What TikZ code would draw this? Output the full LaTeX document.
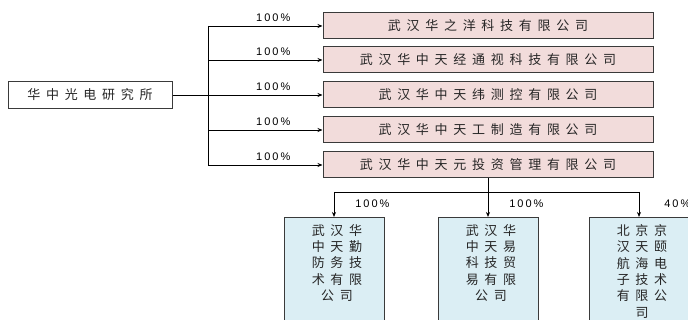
\documentclass[tikz,border=0pt]{standalone}
\usepackage{fontspec}
\usepackage{tikz}
\newfontfamily\cjk[LetterSpace=44]{Noto Sans CJK SC}
\newfontfamily\pctfont[LetterSpace=18]{Liberation Sans}
\usetikzlibrary{arrows.meta,positioning,calc}
\definecolor{pinkfill}{HTML}{F2DCDB}
\definecolor{bluefill}{HTML}{DBEEF4}
\definecolor{boxline}{HTML}{3A3A3A}
\definecolor{txt}{HTML}{262626}

\begin{document}
\begin{tikzpicture}[x=1pt, y=-1pt,
    rootnode/.style={rectangle, draw=boxline, line width=1pt, minimum width=164pt, minimum height=27pt, inner sep=0pt, text=txt, font=\cjk\fontsize{13}{14}\selectfont},
    subnode/.style={rectangle, draw=boxline, line width=1pt, fill=pinkfill, minimum width=330pt, minimum height=26pt, inner sep=0pt, text=txt, font=\cjk\fontsize{13}{14}\selectfont},
    leafnode/.style={rectangle, draw=boxline, line width=1pt, fill=bluefill, minimum width=100pt, minimum height=120pt, inner sep=0pt},
    leaftext/.style={anchor=north, align=center, inner sep=0pt, text=txt, font=\cjk\fontsize{13}{16.4}\selectfont},
    pct/.style={font=\pctfont\fontsize{11}{12}\selectfont, inner sep=1pt},
    arr/.style={-{Stealth[length=5pt, width=4pt]}, line width=0.8pt}
]
    \path[use as bounding box, clip] (0,0) rectangle (688,320);

    % Parent
    \node[rootnode] (root) at (90, 95) {华中光电研究所};

    % Wholly owned subsidiaries
    \node[subnode] (c1) at (488, 26) {武汉华之洋科技有限公司};
    \node[subnode] (c2) at (488, 60) {武汉华中天经通视科技有限公司};
    \node[subnode] (c3) at (488, 95) {武汉华中天纬测控有限公司};
    \node[subnode] (c4) at (488, 130) {武汉华中天工制造有限公司};
    \node[subnode] (c5) at (488, 165) {武汉华中天元投资管理有限公司};

    % Trunk
    \coordinate (t1) at (208, 26);
    \coordinate (t2) at (208, 60);
    \coordinate (t3) at (208, 95);
    \coordinate (t4) at (208, 130);
    \coordinate (t5) at (208, 165);
    \draw[line width=0.8pt] (t1) -- (t5);
    \draw[line width=0.8pt] (root.east) -- (t3);
    \draw[arr] (t1) -- node[pct, pos=0.57, above=3pt] {100\%} (c1.west);
    \draw[arr] (t2) -- node[pct, pos=0.57, above=3pt] {100\%} (c2.west);
    \draw[arr] (t3) -- node[pct, pos=0.57, above=3pt] {100\%} (c3.west);
    \draw[arr] (t4) -- node[pct, pos=0.57, above=3pt] {100\%} (c4.west);
    \draw[arr] (t5) -- node[pct, pos=0.57, above=3pt] {100\%} (c5.west);

    % Investments of the holding company
    \node[leafnode, anchor=north] (g1) at (334, 217) {};
    \node[leafnode, anchor=north] (g2) at (488, 217) {};
    \node[leafnode, anchor=north] (g3) at (639, 217) {};
    \node[leaftext] (g1t) at ($(g1.north)+(3,7)$) {武汉华\\中天勤\\防务技\\术有限\\公司};
    \node[leaftext] (g2t) at ($(g2.north)+(3,7)$) {武汉华\\中天易\\科技贸\\易有限\\公司};
    \node[leaftext] (g3t) at ($(g3.north)+(3,7)$) {北京京\\汉天颐\\航海电\\子技术\\有限公\\司};

    \coordinate (bus) at (488, 192);
    \coordinate (b1) at (334, 192);
    \coordinate (b3) at (639, 192);
    \draw[line width=0.8pt] (c5.south) -- (bus);
    \draw[line width=0.8pt] (b1) -- (b3);
    \draw[arr] (b1) -- node[pct, pos=0.45, right=20pt] {100\%} (g1.north);
    \draw[arr] (bus) -- node[pct, pos=0.45, right=20pt] {100\%} (g2.north);
    \draw[arr] (b3) -- node[pct, pos=0.45, right=24pt] {40\%} (g3.north);
\end{tikzpicture}
\end{document}
